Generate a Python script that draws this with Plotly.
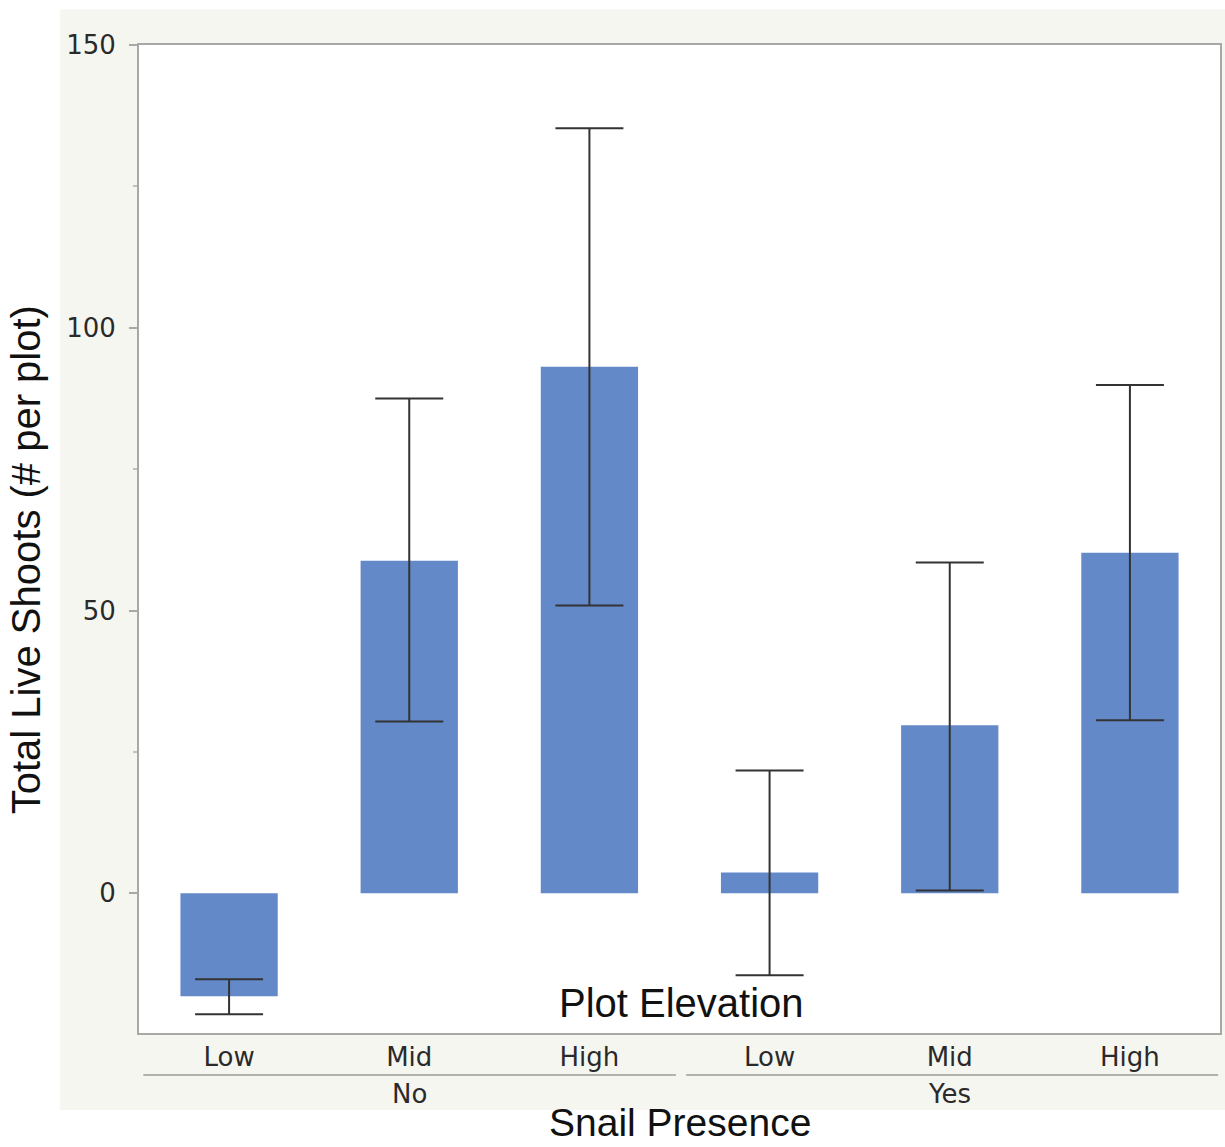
import plotly.graph_objects as go

# ---- data ----
snail = ["No", "No", "No", "Yes", "Yes", "Yes"]
elevation = ["Low", "Mid", "High", "Low", "Mid", "High"]
mean_shoots = [-18.2, 58.8, 93.1, 3.7, 29.7, 60.2]
ci_upper = [-15.2, 87.5, 135.3, 21.7, 58.5, 89.9]
ci_lower = [-21.4, 30.4, 50.9, -14.5, 0.5, 30.6]
y_ticks = [0, 50, 100, 150]
groups = ["No", "Yes"]

xpos = list(range(len(elevation)))
err_plus = [u - m for u, m in zip(ci_upper, mean_shoots)]
err_minus = [m - l for m, l in zip(mean_shoots, ci_lower)]

fig = go.Figure()
fig.add_trace(go.Bar(
    x=xpos, y=mean_shoots, width=0.54,
    marker=dict(color="#6489c9", line=dict(width=0)),
    error_y=dict(type="data", symmetric=False, array=err_plus, arrayminus=err_minus,
                 color="#333333", thickness=2, width=34),
    showlegend=False,
))

tick_font = dict(family="DejaVu Sans", size=26, color="#2a2a2a")
title_font = dict(family="Liberation Sans, Arial", size=40, color="#111111")

fig.update_layout(
    width=1225, height=1147,
    margin=dict(l=139, r=3, t=45, b=114),
    paper_bgcolor="white", plot_bgcolor="white",
    bargap=0.46,
    xaxis=dict(
        range=[-0.5, 5.5], tickvals=xpos, ticktext=elevation,
        showgrid=False, zeroline=False, ticks="", tickfont=tick_font,
        showline=True, linecolor="#a8a8a8", linewidth=2, mirror=True,
    ),
    yaxis=dict(
        range=[-24.7, 150], tickvals=y_ticks, showgrid=False, zeroline=False,
        ticks="outside", ticklen=8, tickcolor="#a8a8a8", tickwidth=1.5,
        tickfont=tick_font, ticklabelstandoff=8,
        minor=dict(ticks="outside", ticklen=4, dtick=25, tickcolor="#c0c0c0"),
        showline=True, linecolor="#a8a8a8", linewidth=2, mirror=True,
    ),
)

# light beige panel behind the chart, white plotting area on top of it
fig.add_shape(type="rect", xref="paper", yref="paper", x0=-0.073, x1=1.01, y0=-0.078, y1=1.036,
              fillcolor="#f6f6f1", line=dict(width=0), layer="below")
fig.add_shape(type="rect", xref="paper", yref="paper", x0=0, x1=1, y0=0, y1=1,
              fillcolor="white", line=dict(width=0), layer="below")

# group underline brackets and group labels
group_spans = [(-0.476, 2.48), (2.537, 5.49)]
for (g0, g1), g, cx in zip(group_spans, groups, [1, 4]):
    fig.add_shape(type="line", xref="x", yref="paper", x0=g0, x1=g1, y0=-0.0425, y1=-0.0425,
                  line=dict(color="#9a9a9a", width=1.5))
    fig.add_annotation(x=cx, y=-0.0617, xref="x", yref="paper", text=g, showarrow=False,
                       font=tick_font, yanchor="middle")

fig.add_annotation(x=0.502, y=0.0304, xref="paper", yref="paper", text="Plot Elevation",
                   showarrow=False, font=title_font, yanchor="middle")
fig.add_annotation(x=0.5005, y=-0.1135, xref="paper", yref="paper", text="Snail Presence",
                   showarrow=False, font=dict(family="Liberation Sans, Arial", size=39, color="#111111"),
                   yanchor="bottom", borderpad=0)
fig.add_annotation(x=-0.105, y=0.479, xref="paper", yref="paper", text="Total Live Shoots (# per plot)",
                   showarrow=False, font=title_font, textangle=-90, xanchor="center", yanchor="middle")

fig.write_html("out.html")
